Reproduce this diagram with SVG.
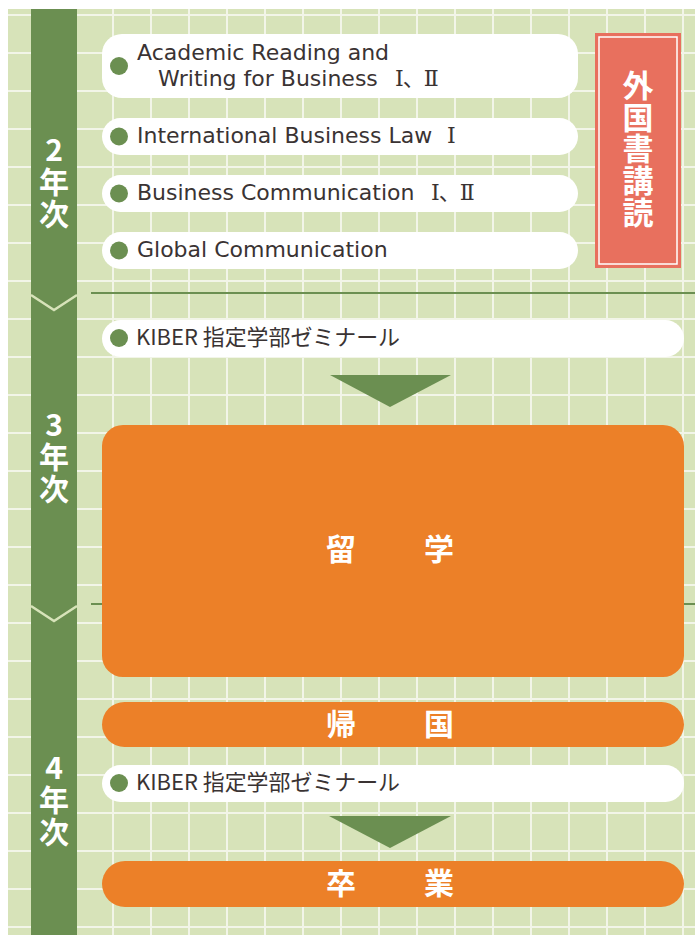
<svg xmlns="http://www.w3.org/2000/svg" width="695" height="935" viewBox="0 0 695 935">
<style>
.grid line{stroke:#f2f5e8;stroke-width:2}
.pill{fill:#ffffff}
.dot{fill:#6b8f51}
.en{font-family:"DejaVu Sans","Noto Sans",sans-serif;font-size:22px;fill:#3a3333}
.cj{font-family:"Noto Sans CJK JP",sans-serif;font-size:22px;fill:#3a3333}
.rn{font-family:"DejaVu Serif","Noto Sans CJK JP",serif;font-size:22px;fill:#3a3333}
.wl{font-family:"Noto Sans CJK JP","DejaVu Sans",sans-serif;font-weight:700;fill:#ffffff;text-anchor:middle}
.vt{font-family:"Noto Sans CJK JP","DejaVu Sans",sans-serif;font-weight:700;fill:#ffffff;writing-mode:vertical-rl;text-orientation:upright}
.orange{fill:#ec8028}
.arrow{fill:#6b8f51}
.sep{stroke:#6b8f51;stroke-width:2}
.chev{fill:none;stroke:#d7e3b9;stroke-width:2.5}
</style>
<rect width="695" height="935" fill="#ffffff"/>
<rect x="8" y="9" width="687" height="926" fill="#d7e3b9"/>
<g class="grid">
<line x1="8" y1="15" x2="695" y2="15"/><line x1="8" y1="53" x2="695" y2="53"/><line x1="8" y1="91" x2="695" y2="91"/><line x1="8" y1="129" x2="695" y2="129"/><line x1="8" y1="167" x2="695" y2="167"/><line x1="8" y1="205" x2="695" y2="205"/><line x1="8" y1="243" x2="695" y2="243"/><line x1="8" y1="281" x2="695" y2="281"/><line x1="8" y1="319" x2="695" y2="319"/><line x1="8" y1="357" x2="695" y2="357"/><line x1="8" y1="395" x2="695" y2="395"/><line x1="8" y1="433" x2="695" y2="433"/><line x1="8" y1="471" x2="695" y2="471"/><line x1="8" y1="509" x2="695" y2="509"/><line x1="8" y1="547" x2="695" y2="547"/><line x1="8" y1="585" x2="695" y2="585"/><line x1="8" y1="623" x2="695" y2="623"/><line x1="8" y1="661" x2="695" y2="661"/><line x1="8" y1="699" x2="695" y2="699"/><line x1="8" y1="737" x2="695" y2="737"/><line x1="8" y1="775" x2="695" y2="775"/><line x1="8" y1="813" x2="695" y2="813"/><line x1="8" y1="851" x2="695" y2="851"/><line x1="8" y1="889" x2="695" y2="889"/><line x1="8" y1="927" x2="695" y2="927"/>
<line x1="113" y1="9" x2="113" y2="935"/><line x1="151" y1="9" x2="151" y2="935"/><line x1="189" y1="9" x2="189" y2="935"/><line x1="227" y1="9" x2="227" y2="935"/><line x1="265" y1="9" x2="265" y2="935"/><line x1="303" y1="9" x2="303" y2="935"/><line x1="341" y1="9" x2="341" y2="935"/><line x1="379" y1="9" x2="379" y2="935"/><line x1="417" y1="9" x2="417" y2="935"/><line x1="455" y1="9" x2="455" y2="935"/><line x1="493" y1="9" x2="493" y2="935"/><line x1="531" y1="9" x2="531" y2="935"/><line x1="569" y1="9" x2="569" y2="935"/><line x1="607" y1="9" x2="607" y2="935"/><line x1="645" y1="9" x2="645" y2="935"/><line x1="683" y1="9" x2="683" y2="935"/>
</g>
<g id="year-bar">
<rect x="31" y="9" width="46" height="926" fill="#6b8f51"/>
<polyline class="chev" points="31,295 54,310 77,295"/>
<polyline class="chev" points="31,606 54,621 77,606"/>
</g>
<g id="year2">
<text class="vt" x="54" y="135" font-size="30" letter-spacing="2">2年次</text>
</g>
<g id="year3">
<text class="vt" x="54" y="410" font-size="30" letter-spacing="2">3年次</text>
</g>
<g id="year4">
<text class="vt" x="54" y="753" font-size="30" letter-spacing="2">4年次</text>
</g>
<g id="separators">
<line class="sep" x1="91" y1="293" x2="695" y2="293"/>
<line class="sep" x1="91" y1="604" x2="695" y2="604"/>
</g>
<g id="course-academic">
<rect class="pill" x="102" y="34" width="476" height="64" rx="20"/>
<circle class="dot" cx="119" cy="66" r="9"/>
<text class="en" x="137" y="60">Academic Reading and</text>
<text class="en" x="158" y="86">Writing for Business<tspan class="rn" x="395" letter-spacing="-1">Ⅰ、Ⅱ</tspan></text>
</g>
<g id="course-law">
<rect class="pill" x="102" y="118" width="476" height="37" rx="18.5"/>
<circle class="dot" cx="119" cy="136.5" r="9"/>
<text class="en" x="137" y="143">International Business Law<tspan class="rn" x="447">Ⅰ</tspan></text>
</g>
<g id="course-bizcomm">
<rect class="pill" x="102" y="175" width="476" height="37" rx="18.5"/>
<circle class="dot" cx="119" cy="193.5" r="9"/>
<text class="en" x="137" y="200">Business Communication<tspan class="rn" x="431" letter-spacing="-1">Ⅰ、Ⅱ</tspan></text>
</g>
<g id="course-global">
<rect class="pill" x="102" y="232" width="476" height="37" rx="18.5"/>
<circle class="dot" cx="119" cy="250.5" r="9"/>
<text class="en" x="137" y="257">Global Communication</text>
</g>
<g id="foreign-reading">
<rect x="595" y="33" width="86" height="235" fill="#e8705e"/>
<rect x="599" y="37" width="78" height="227" fill="none" stroke="#ffffff" stroke-width="1.5"/>
<text class="vt" x="638" y="69.5" font-size="31" letter-spacing="0.75">外国書講読</text>
</g>
<g id="seminar-3">
<rect class="pill" x="102" y="320" width="582" height="37" rx="18.5"/>
<circle class="dot" cx="119" cy="338" r="9"/>
<text class="cj" x="136" y="345" textLength="264" lengthAdjust="spacingAndGlyphs">KIBER 指定学部ゼミナール</text>
</g>
<g id="study-abroad">
<rect class="orange" x="102" y="425" width="582" height="252" rx="21"/>
<text class="wl" x="341" y="560" font-size="30">留</text>
<text class="wl" x="439" y="560" font-size="30">学</text>
</g>
<g id="return">
<rect class="orange" x="102" y="702" width="582" height="45" rx="22.5"/>
<text class="wl" x="341" y="735" font-size="30">帰</text>
<text class="wl" x="439" y="735" font-size="30">国</text>
</g>
<g id="seminar-4">
<rect class="pill" x="102" y="765" width="582" height="37" rx="18.5"/>
<circle class="dot" cx="119" cy="783" r="9"/>
<text class="cj" x="136" y="790" textLength="264" lengthAdjust="spacingAndGlyphs">KIBER 指定学部ゼミナール</text>
</g>
<g id="graduation">
<rect class="orange" x="102" y="861" width="582" height="46" rx="23"/>
<text class="wl" x="341" y="894" font-size="30">卒</text>
<text class="wl" x="439" y="894" font-size="30">業</text>
</g>
<g id="connectors">
<polygon class="arrow" points="330,375 451,375 390,407"/>
<polygon class="arrow" points="329,816 451,816 390,848"/>
</g>
</svg>
